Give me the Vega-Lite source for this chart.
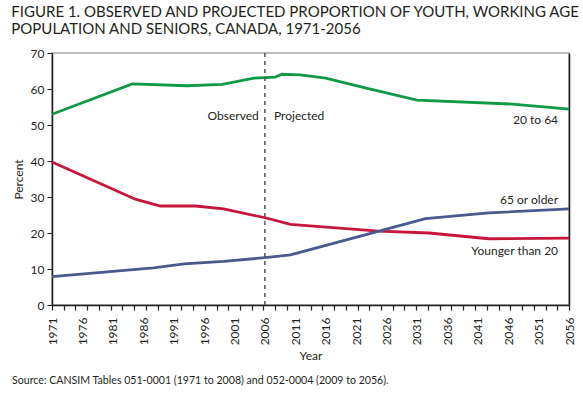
{
  "$schema": "https://vega.github.io/schema/vega-lite/v6.json",
  "padding": {"left": 11, "top": 5, "right": 5, "bottom": 5},
  "background": "white",
  "title": {
    "text": ["FIGURE 1. OBSERVED AND PROJECTED PROPORTION OF YOUTH, WORKING AGE", "POPULATION AND SENIORS, CANADA, 1971-2056"],
    "anchor": "start", "frame": "bounds", "font": "Lato", "fontSize": 15, "fontWeight": "normal",
    "color": "#231f20", "lineHeight": 17, "offset": 9
  },
  "datasets": {
    "series": [
      {"year": 1971, "value": 53.0, "series": "20 to 64"},
      {"year": 1984.2, "value": 61.4, "series": "20 to 64"},
      {"year": 1993.2, "value": 60.9, "series": "20 to 64"},
      {"year": 1999.0, "value": 61.3, "series": "20 to 64"},
      {"year": 2004.2, "value": 63.0, "series": "20 to 64"},
      {"year": 2007.7, "value": 63.3, "series": "20 to 64"},
      {"year": 2008.8, "value": 64.1, "series": "20 to 64"},
      {"year": 2011.8, "value": 63.9, "series": "20 to 64"},
      {"year": 2016.0, "value": 63.0, "series": "20 to 64"},
      {"year": 2022.5, "value": 60.3, "series": "20 to 64"},
      {"year": 2031.0, "value": 56.9, "series": "20 to 64"},
      {"year": 2046.7, "value": 55.8, "series": "20 to 64"},
      {"year": 2056, "value": 54.4, "series": "20 to 64"},
      {"year": 1971, "value": 39.7, "series": "Younger than 20"},
      {"year": 1984.7, "value": 29.4, "series": "Younger than 20"},
      {"year": 1988.8, "value": 27.5, "series": "Younger than 20"},
      {"year": 1994.6, "value": 27.5, "series": "Younger than 20"},
      {"year": 1999.2, "value": 26.7, "series": "Younger than 20"},
      {"year": 2006.4, "value": 24.1, "series": "Younger than 20"},
      {"year": 2010.2, "value": 22.4, "series": "Younger than 20"},
      {"year": 2024.7, "value": 20.5, "series": "Younger than 20"},
      {"year": 2033.0, "value": 20.0, "series": "Younger than 20"},
      {"year": 2042.8, "value": 18.4, "series": "Younger than 20"},
      {"year": 2056, "value": 18.6, "series": "Younger than 20"},
      {"year": 1971, "value": 7.9, "series": "65 or older"},
      {"year": 1987.7, "value": 10.3, "series": "65 or older"},
      {"year": 1992.7, "value": 11.4, "series": "65 or older"},
      {"year": 1999.2, "value": 12.1, "series": "65 or older"},
      {"year": 2006.4, "value": 13.2, "series": "65 or older"},
      {"year": 2010.2, "value": 13.9, "series": "65 or older"},
      {"year": 2032.4, "value": 24.0, "series": "65 or older"},
      {"year": 2042.8, "value": 25.6, "series": "65 or older"},
      {"year": 2056, "value": 26.7, "series": "65 or older"}
    ],
    "labelsRight": [
      {"year": 2054.2, "value": 51.5, "label": "20 to 64"},
      {"year": 2054.2, "value": 29.2, "label": "65 or older"},
      {"year": 2054.2, "value": 15.1, "label": "Younger than 20"},
      {"year": 2005.0, "value": 52.5, "label": "Observed"}
    ],
    "labelsLeft": [
      {"year": 2007.5, "value": 52.5, "label": "Projected"}
    ],
    "divider": [{"year": 2006}]
  },
  "vconcat": [
    {
      "width": 517,
      "height": 252,
      "title": {
        "text": "Source: CANSIM Tables 051-0001 (1971 to 2008) and 052-0004 (2009 to 2056).",
        "orient": "bottom", "anchor": "start", "frame": "bounds", "font": "Lato", "fontSize": 10.6,
        "fontWeight": "normal", "color": "#231f20", "offset": 14
      },
      "layer": [
        {
          "data": {"name": "series"},
          "mark": {"type": "line", "strokeWidth": 2.8},
          "encoding": {
            "x": {
              "field": "year", "type": "quantitative",
              "scale": {"domain": [1971, 2056], "nice": false, "zero": false},
              "axis": {
                "orient": "bottom",
                "values": [1971, 1976, 1981, 1986, 1991, 1996, 2001, 2006, 2011, 2016, 2021, 2026, 2031, 2036, 2041, 2046, 2051, 2056],
                "format": "d", "labelAngle": -90, "ticks": false, "tickSize": 0, "labelPadding": 12,
                "domainColor": "#231f20", "domainWidth": 1.5, "title": "Year", "titlePadding": 6,
                "labelOverlap": false, "labelFlush": false
              }
            },
            "y": {
              "field": "value", "type": "quantitative",
              "scale": {"domain": [0, 70], "nice": false},
              "axis": {
                "orient": "left", "values": [0, 10, 20, 30, 40, 50, 60, 70], "tickSize": 5,
                "labelPadding": 3, "domainColor": "#231f20", "domainWidth": 1.5, "tickColor": "#231f20",
                "title": "Percent", "titlePadding": 5, "labelFlush": false
              }
            },
            "color": {
              "field": "series", "type": "nominal",
              "scale": {"domain": ["20 to 64", "Younger than 20", "65 or older"], "range": ["#109a48", "#c8153a", "#4a5a8c"]},
              "legend": null
            }
          }
        },
        {
          "data": {"name": "divider"},
          "mark": {"type": "rule", "strokeDash": [4, 4], "strokeWidth": 1.5, "color": "#555555"},
          "encoding": {
            "x": {
              "field": "year", "type": "quantitative",
              "axis": {
                "orient": "bottom",
                "values": [1971, 1972.93, 1974.86, 1976.8, 1978.73, 1980.66, 1982.59, 1984.52, 1986.45, 1988.39, 1990.32, 1992.25, 1994.18, 1996.11, 1998.05, 1999.98, 2001.91, 2003.84, 2005.77, 2007.7, 2009.64, 2011.57, 2013.5, 2015.43, 2017.36, 2019.3, 2021.23, 2023.16, 2025.09, 2027.02, 2028.95, 2030.89, 2032.82, 2034.75, 2036.68, 2038.61, 2040.55, 2042.48, 2044.41, 2046.34, 2048.27, 2050.2, 2052.14, 2054.07, 2056],
                "labels": false, "domain": false, "ticks": true, "tickSize": 5, "tickColor": "#231f20",
                "tickWidth": 1.2, "title": null, "grid": false
              }
            }
          }
        },
        {
          "data": {"name": "labelsRight"},
          "mark": {"type": "text", "align": "right", "baseline": "middle", "font": "Lato", "fontSize": 12, "color": "#231f20"},
          "encoding": {
            "x": {"field": "year", "type": "quantitative", "axis": null},
            "y": {
              "field": "value", "type": "quantitative",
              "axis": {"orient": "right", "labels": false, "ticks": false, "domain": true, "domainColor": "#231f20", "domainWidth": 1.5, "title": null, "grid": false}
            },
            "text": {"field": "label", "type": "nominal"}
          }
        },
        {
          "data": {"name": "labelsLeft"},
          "mark": {"type": "text", "align": "left", "baseline": "middle", "font": "Lato", "fontSize": 12, "color": "#231f20"},
          "encoding": {
            "x": {"field": "year", "type": "quantitative", "axis": null},
            "y": {"field": "value", "type": "quantitative", "axis": null},
            "text": {"field": "label", "type": "nominal"}
          }
        }
      ],
      "resolve": {"axis": {"x": "independent", "y": "independent"}}
    }
  ],
  "config": {
    "view": {"stroke": "#a6a6a6", "strokeWidth": 1.5},
    "axis": {
      "labelFont": "Lato", "labelFontSize": 12, "labelColor": "#231f20",
      "titleFont": "Lato", "titleFontSize": 12, "titleFontWeight": "normal", "titleColor": "#231f20",
      "grid": false
    }
  }
}
